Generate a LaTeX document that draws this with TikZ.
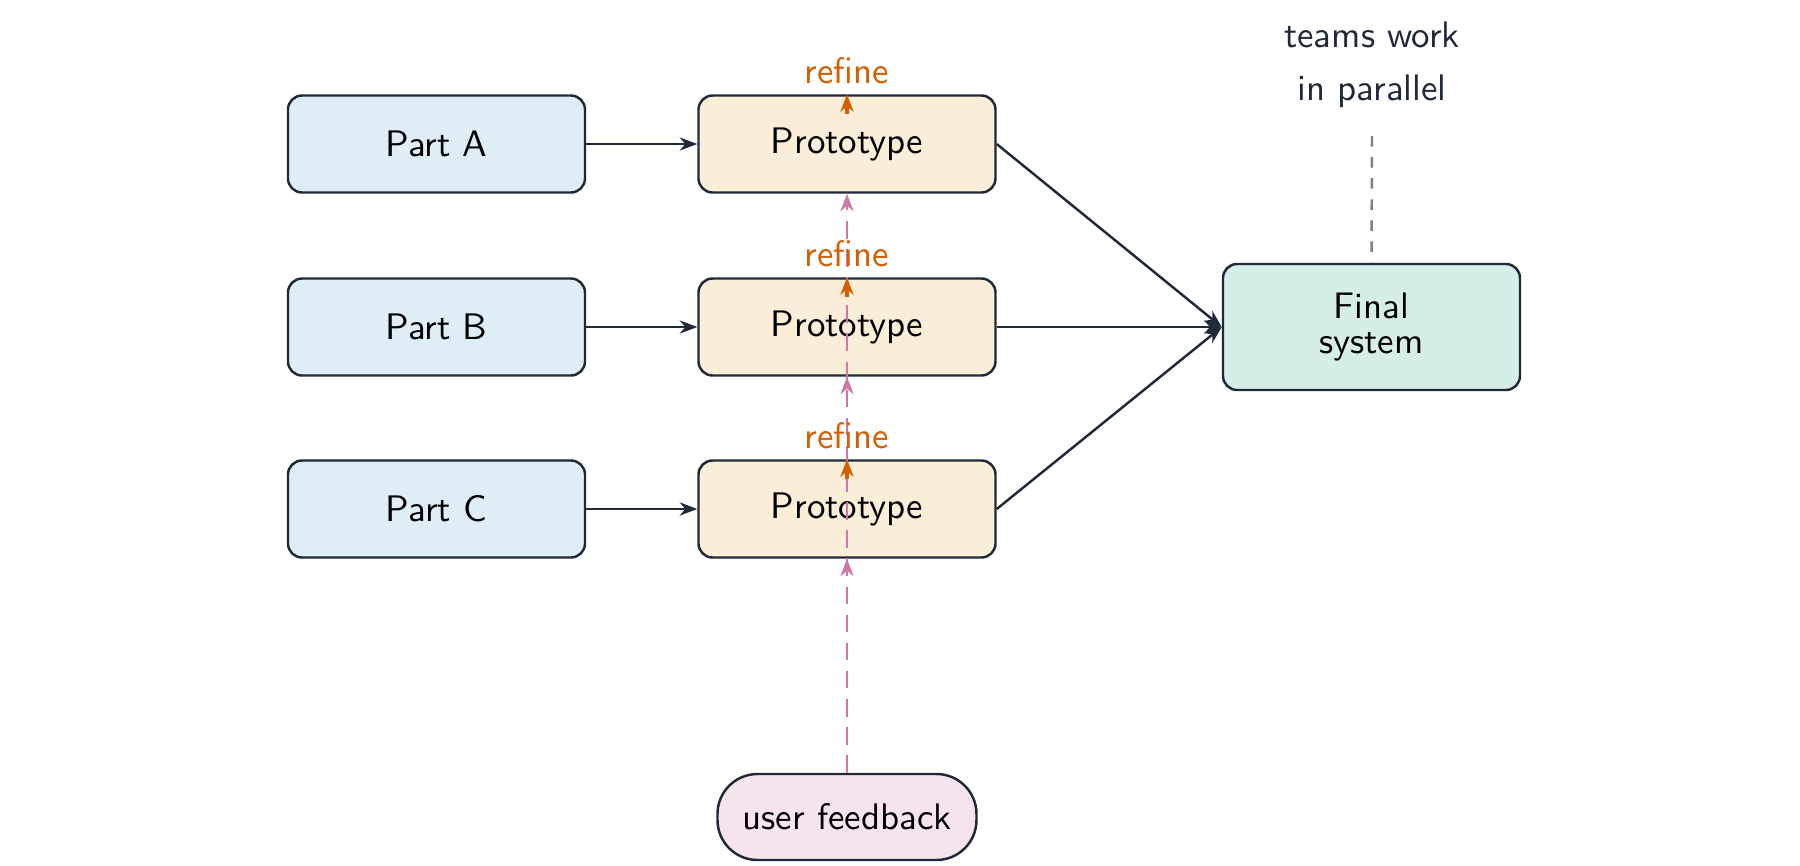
\documentclass[tikz,border=0pt]{standalone}
\usepackage{tikz}
\usetikzlibrary{arrows.meta,positioning}
\definecolor{ink}{HTML}{1F2937}
\definecolor{partfill}{HTML}{DFEEF6}
\definecolor{protofill}{HTML}{FAEED8}
\definecolor{finalfill}{HTML}{D5EEE8}
\definecolor{userfill}{HTML}{F5E4EE}
\definecolor{refinecol}{HTML}{D55E00}
\definecolor{feedcol}{HTML}{CC79A7}
\tikzstyle{box} = [rectangle, draw=ink, line width=0.7pt, text centered, rounded corners=4pt, minimum width=2.97cm, minimum height=0.97cm, font=\sffamily\fontsize{10.5}{12}\selectfont]
\tikzstyle{part} = [box, fill=partfill]
\tikzstyle{proto} = [box, fill=protofill]
\tikzstyle{final} = [box, fill=finalfill, minimum height=1.26cm, text width=2.6cm]
\tikzstyle{user} = [box, fill=userfill, rounded corners=0.4cm, minimum width=2.59cm, minimum height=0.86cm]
\tikzstyle{flow} = [draw=ink, line width=0.7pt, -{Stealth[length=5pt]}]
\tikzstyle{refine} = [draw=refinecol, line width=1pt, -{Stealth[length=5pt]}]
\tikzstyle{feed} = [draw=feedcol, line width=0.7pt, dashed, dash pattern=on 5pt off 3pt, -{Stealth[length=5pt]}]
\tikzstyle{note} = [text=ink, align=center, font=\sffamily\fontsize{10.5}{15}\selectfont]

\begin{document}
\begin{tikzpicture}
    \useasboundingbox (0,0) rectangle (18,-8.65);

    %  nodes
    \node[part] (PA) at (4.365,-1.44) {Part A};
    \node[part] (PB) at (4.365,-3.27) {Part B};
    \node[part] (PC) at (4.365,-5.09) {Part C};

    \node[proto] (RA) at (8.47,-1.44) {Prototype};
    \node[proto] (RB) at (8.47,-3.27) {Prototype};
    \node[proto] (RC) at (8.47,-5.09) {Prototype};

    \node[final] (F) at (13.715,-3.27) {Final\\[-2pt]system};
    \node[user] (U) at (8.47,-8.17) {user feedback};

    \node[note] (T) at (13.72,-0.65) {teams work\\in parallel};
    \coordinate (Tb) at (13.72,-1.36);

    %-------------------------------------------------------------
    \draw[flow] (PA) -- (RA);
    \draw[flow] (PB) -- (RB);
    \draw[flow] (PC) -- (RC);
    \draw[flow] (RA.east) -- (F.west);
    \draw[flow] (RB.east) -- (F.west);
    \draw[flow] (RC.east) -- (F.west);
    \draw[gray, line width=0.7pt, dashed] (Tb) -- (F.north);

    %-------------------------------------------------------------
    \foreach \r in {RA,RB,RC} {
        \draw[refine] ([yshift=-0.2cm]\r.north) -- (\r.north)
            node[above=-1pt, text=refinecol, font=\sffamily\fontsize{10.5}{12}\selectfont] {refine};
        \draw[feed] (U.north) -- (\r.south);
    }

\end{tikzpicture}
\end{document}
